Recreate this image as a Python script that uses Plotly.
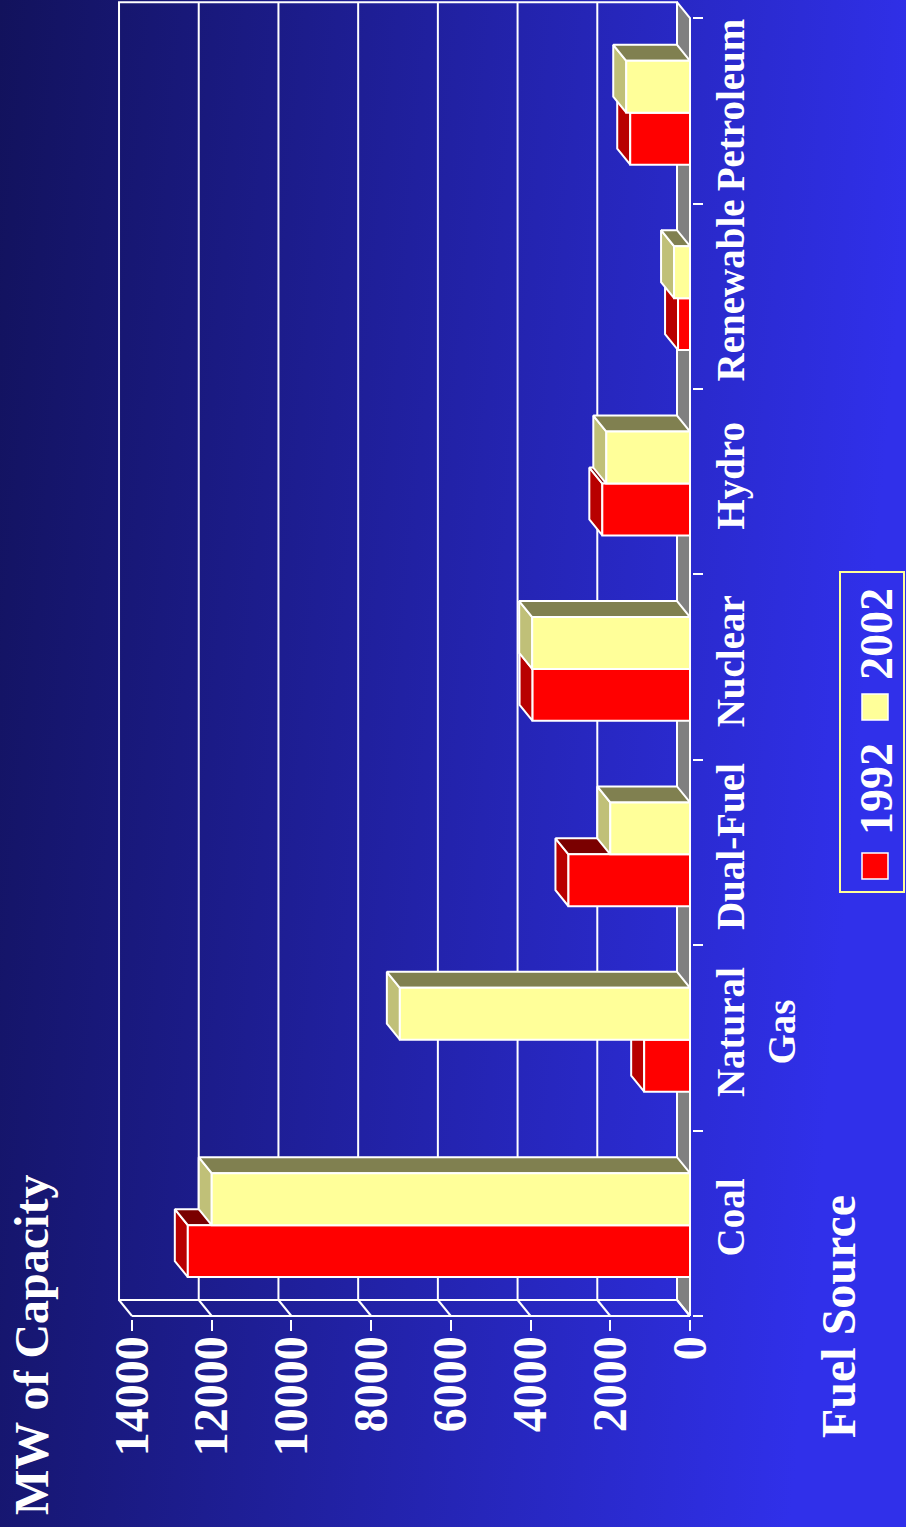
import base64
import plotly.graph_objects as go

# capacity by fuel source (MW)
fuels = ['Coal', 'Natural<br>Gas', 'Dual-Fuel', 'Nuclear', 'Hydro', 'Renewable', 'Petroleum']
mw1992 = [12600, 1150, 3050, 3950, 2200, 300, 1500]
mw2002 = [12000, 7280, 2000, 3960, 2100, 400, 1600]
valueTicks = [0, 2000, 4000, 6000, 8000, 10000, 12000, 14000]
years = ['1992', '2002']

W, H = 906, 1527
L, R, T, B = 115, 214, 0, 208
plotW, plotH = W - L - R, H - T - B
xRange = [14427, -50]
yRange = [-0.5162, 6.598]

# 3D depth offset in data units (13 px left, 16 px up)
DX = 13 * (xRange[0] - xRange[1]) / plotW
DY = 16 * (yRange[1] - yRange[0]) / plotH

family = 'Liberation Serif'
white = 'white'
lw = 2


def px(x):
    return (x - L) / plotW


def py(y):
    return (H - B - y) / plotH


def polys(rects):
    xs, ys = [], []
    for pts in rects:
        xs += [p[0] for p in pts] + [pts[0][0], None]
        ys += [p[1] for p in pts] + [pts[0][1], None]
    return xs, ys


def faceTrace(pts, color):
    xs, ys = polys(pts)
    return go.Scatter(x=xs, y=ys, mode='lines', fill='toself', fillcolor=color,
                      line=dict(color=white, width=lw), hoverinfo='skip', showlegend=False)


fig = go.Figure()

# floor strip (value = 0 plane)
nCat = len(fuels)
top = nCat - 0.5
fig.add_trace(faceTrace([[(0, -0.5), (0, top), (DX, top + DY), (DX, -0.5 + DY)]], '#808080'))

# back wall, gridlines and base diagonals
vmax = valueTicks[-1]
gx, gy = [], []
gx += [DX, vmax + DX, vmax + DX, DX, DX, None]
gy += [-0.5 + DY, -0.5 + DY, top + DY, top + DY, -0.5 + DY, None]
for v in valueTicks[1:-1]:
    gx += [v + DX, v + DX, None]
    gy += [-0.5 + DY, top + DY, None]
for v in valueTicks:
    gx += [v, v + DX, None]
    gy += [-0.5, -0.5 + DY, None]
gx += [0, vmax, None]
gy += [-0.5, -0.5, None]
fig.add_trace(go.Scatter(x=gx, y=gy, mode='lines', line=dict(color=white, width=lw),
                         hoverinfo='skip', showlegend=False))

# 3D bars
series = [
    (mw1992, -0.29, '#ff0000', '#b80000', '#7a0000'),
    (mw2002, -0.01, '#ffff99', '#c0c078', '#808050'),
]
barW = 0.28
for vals, off, cFront, cLeft, cTop in series:
    fronts, lefts, tops = [], [], []
    for i, v in enumerate(vals):
        y0 = i + off
        y1 = y0 + barW
        fronts.append([(0, y0), (v, y0), (v, y1), (0, y1)])
        lefts.append([(v, y0), (v + DX, y0 + DY), (v + DX, y1 + DY), (v, y1)])
        tops.append([(0, y1), (v, y1), (v + DX, y1 + DY), (DX, y1 + DY)])
    fig.add_trace(faceTrace(lefts, cLeft))
    fig.add_trace(faceTrace(tops, cTop))
    fig.add_trace(faceTrace(fronts, cFront))

# invisible trace to hold the boundary tick axis
fig.add_trace(go.Scatter(x=[0], y=[0], yaxis='y2', mode='markers', marker=dict(opacity=0),
                         hoverinfo='skip', showlegend=False))

svg = ('<svg xmlns="http://www.w3.org/2000/svg" width="906" height="1527" preserveAspectRatio="none">'
       '<defs><linearGradient id="g" x1="0" y1="0" x2="1" y2="0.15">'
       '<stop offset="0" stop-color="#12125c"/><stop offset="1" stop-color="#3030ea"/>'
       '</linearGradient></defs><rect width="906" height="1527" fill="url(#g)"/></svg>')
bg = 'data:image/svg+xml;base64,' + base64.b64encode(svg.encode()).decode()

fig.update_layout(
    width=W, height=H,
    margin=dict(l=L, r=R, t=T, b=B, pad=0),
    paper_bgcolor='#22229e',
    plot_bgcolor='rgba(0,0,0,0)',
    showlegend=False,
    images=[dict(source=bg, xref='paper', yref='paper', x=px(0), y=py(0),
                 sizex=W / plotW, sizey=H / plotH, xanchor='left', yanchor='top',
                 sizing='stretch', layer='below')],
    xaxis=dict(range=xRange, tickvals=valueTicks, ticktext=[str(v) for v in valueTicks],
               ticks='outside', ticklen=11, tickwidth=2, ticklabelstandoff=-14,
               tickcolor=white, tickangle=-90, showgrid=False, zeroline=False, showline=False,
               tickfont=dict(family=family, size=48, color=white, weight='bold')),
    yaxis=dict(range=yRange, side='right', tickvals=list(range(nCat)), ticktext=fuels,
               ticks='', tickangle=-90, showgrid=False, zeroline=False, showline=False,
               ticklabelstandoff=12,
               tickfont=dict(family=family, size=39, color=white, weight='bold')),
    yaxis2=dict(range=yRange, overlaying='y', side='right', anchor='x',
                tickvals=[k - 0.5 for k in range(nCat + 1)], ticks='outside', ticklen=10,
                tickwidth=2, tickcolor=white, showticklabels=False, showgrid=False,
                zeroline=False, showline=False),
)

# titles
fig.add_annotation(text='MW of Capacity', textangle=-90, x=px(31), y=py(1345), xref='paper',
                   yref='paper', showarrow=False, xanchor='center', yanchor='middle',
                   font=dict(family=family, size=48, color=white, weight='bold'))
fig.add_annotation(text='Fuel Source', textangle=-90, x=px(838), y=py(1317), xref='paper',
                   yref='paper', showarrow=False, xanchor='center', yanchor='middle',
                   font=dict(family=family, size=48, color=white, weight='bold'))

# legend (drawn rotated like the chart)
fig.add_shape(type='rect', xref='paper', yref='paper', x0=px(840), x1=px(904), y0=py(892),
              y1=py(572), line=dict(color='#ffff99', width=2))
legendItems = [(years[0], '#ff0000', 866, 789), (years[1], '#ffff99', 707, 634)]
for name, color, sqY, txtY in legendItems:
    fig.add_shape(type='rect', xref='paper', yref='paper', x0=px(862), x1=px(888),
                  y0=py(sqY + 13), y1=py(sqY - 13), fillcolor=color, line=dict(color=white, width=1.5))
    fig.add_annotation(text=name, textangle=-90, x=px(876), y=py(txtY), xref='paper', yref='paper',
                       showarrow=False, xanchor='center', yanchor='middle',
                       font=dict(family=family, size=46, color=white, weight='bold'))

# the page's default body margin would shift the figure by 8px
fig.write_html('out.html', config={'displayModeBar': False},
               post_script="document.body.style.margin='0';"
               "document.body.style.background='#22229e';")
